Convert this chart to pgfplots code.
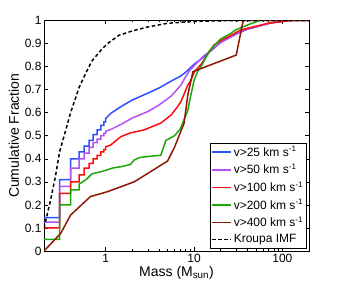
\documentclass[border=0pt]{standalone}
\usepackage{fontspec}
\setmainfont{Liberation Sans}
\usepackage{pgfplots}
\pgfplotsset{compat=1.18}
\definecolor{cblue}{RGB}{45,80,255}
\definecolor{cpurple}{RGB}{180,80,245}
\definecolor{cred}{RGB}{250,15,15}
\definecolor{cgreen}{RGB}{30,165,10}
\definecolor{cbrown}{RGB}{140,25,5}
\begin{document}
\begin{tikzpicture}
\begin{axis}[
  name=ax,
  at={(0,0)}, anchor=south west,
  scale only axis,
  width=265pt, height=230.5pt,
  xmode=log,
  xmin=0.2, xmax=200, ymin=0, ymax=1,
  xtick={1,10,100}, xticklabels={1,10,100},
  ytick={0,0.1,0.2,0.3,0.4,0.5,0.6,0.7,0.8,0.9,1},
  yticklabels={0,0.1,0.2,0.3,0.4,0.5,0.6,0.7,0.8,0.9,1},
  tick align=inside,
  major tick length=4pt, minor tick length=2pt,
  tick style={black, line width=0.5pt},
  axis line style={line width=0.8pt},
  /pgf/number format/assume math mode=true,
  tick label style={font=\fontsize{12}{14}\selectfont},
  yticklabel style={xshift=1pt},
  label style={font=\fontsize{14}{16}\selectfont},
  xlabel={Mass (M\textsubscript{sun})},
  ylabel={Cumulative Fraction},
  xlabel style={yshift=4pt},
  ylabel style={yshift=-1pt},
  legend style={at={(0.992,0.012)}, anchor=south east,
    font=\fontsize{12}{14}\selectfont, draw=black, line width=0.5pt,
    row sep=2.3pt, inner sep=1.5pt},
  legend cell align=left,
  legend image code/.code={\draw[#1, line width=1.5pt] (0pt,0pt) -- (19pt,0pt);},
  every axis plot/.append style={line width=1.5pt},
]
\addplot[cblue] coordinates {
(0.2,0.145)(0.3,0.145)(0.3,0.31)(0.4,0.31)(0.4,0.40)(0.5,0.40)(0.5,0.43)(0.57,0.43)(0.57,0.455)(0.65,0.455)(0.65,0.48)(0.72,0.48)(0.72,0.505)(0.8,0.505)(0.8,0.525)(0.88,0.525)(0.88,0.545)(0.95,0.545)(0.95,0.56)(1.0,0.56)(1.0,0.575)
(1.14,0.597)(1.48,0.626)(2,0.655)(3,0.685)(4,0.707)(5,0.728)(6,0.745)(7,0.758)(8,0.775)(10,0.81)(13,0.843)(16.8,0.88)(20,0.905)(31,0.944)(40,0.962)(60,0.98)(75,0.99)(120,1.0)(200,1.0)};
\addlegendentry{v>25 km s\textsuperscript{-1}}
\addplot[cpurple] coordinates {
(0.2,0.125)(0.3,0.125)(0.3,0.28)(0.4,0.28)(0.4,0.36)(0.5,0.36)(0.5,0.40)(0.57,0.40)(0.57,0.425)(0.65,0.425)(0.65,0.45)(0.72,0.45)(0.72,0.47)(0.8,0.47)(0.8,0.485)(0.88,0.485)(0.88,0.50)(0.95,0.50)(0.95,0.51)(1.0,0.51)(1.0,0.52)
(1.14,0.527)(1.5,0.55)(2,0.577)(3,0.605)(4,0.633)(5.5,0.672)(7.1,0.72)(8,0.755)(9,0.785)(11,0.82)(13,0.848)(16.8,0.88)(20,0.905)(31,0.944)(40,0.962)(60,0.98)(75,0.99)(120,1.0)(200,1.0)};
\addlegendentry{v>50 km s\textsuperscript{-1}}
\addplot[cred] coordinates {
(0.2,0.10)(0.3,0.10)(0.3,0.25)(0.4,0.25)(0.4,0.30)(0.5,0.30)(0.5,0.33)(0.57,0.33)(0.57,0.36)(0.65,0.36)(0.65,0.38)(0.72,0.38)(0.72,0.40)(0.8,0.40)(0.8,0.415)(0.88,0.415)(0.88,0.43)(0.95,0.43)(0.95,0.44)(1.0,0.44)(1.0,0.452)
(1.14,0.46)(1.48,0.496)(1.92,0.513)(2.7,0.525)(4.2,0.555)(5.5,0.59)(6.5,0.626)(7.1,0.648)(8.5,0.72)(9.2,0.74)(10.1,0.778)(12,0.81)(16.8,0.894)(20,0.912)(34,0.959)(50,0.975)(69,0.988)(127,1.0)(200,1.0)};
\addlegendentry{v>100 km s\textsuperscript{-1}}
\addplot[cgreen] coordinates {
(0.2,0.05)(0.3,0.05)(0.3,0.2)(0.4,0.2)(0.4,0.265)(0.5,0.265)(0.5,0.29)(0.6,0.31)(0.7,0.335)(0.8,0.34)(1.0,0.35)(1.2,0.36)(1.5,0.366)(1.9,0.375)(2.1,0.395)(2.4,0.405)(3,0.41)(4.2,0.415)(4.8,0.48)(6,0.50)(7,0.53)(7.7,0.57)(8.5,0.61)(9,0.66)(10,0.74)(11,0.78)(12,0.80)(15,0.87)(20,0.92)(25,0.94)(30,0.96)(40,0.98)(55,1.0)(200,1.0)};
\addlegendentry{v>200 km s\textsuperscript{-1}}
\addplot[cbrown] coordinates {
(0.2,0)(0.31,0.077)(0.4,0.156)(0.67,0.236)(1.04,0.257)(2.1,0.30)(5.0,0.39)(6,0.45)(7.7,0.554)(8.5,0.677)(9.7,0.778)(30,0.85)(36,1.0)(200,1.0)};
\addlegendentry{v>400 km s\textsuperscript{-1}}
\addplot[black, dash pattern=on 3.5pt off 2.5pt] coordinates {
(0.2,0.10)(0.237,0.22)(0.27,0.325)(0.3,0.43)(0.35,0.52)(0.4,0.60)(0.5,0.71)(0.6,0.775)(0.7,0.825)(0.9,0.875)(1.05,0.90)(1.4,0.935)(2,0.955)(3,0.972)(5,0.988)(10,0.996)(20,0.999)(50,1.0)(200,1.0)};
\addlegendentry{Kroupa IMF}
\end{axis}
\pgfresetboundingbox
\path[use as bounding box] (-44pt,-32pt) rectangle (297pt,251pt);
\end{tikzpicture}
\end{document}
